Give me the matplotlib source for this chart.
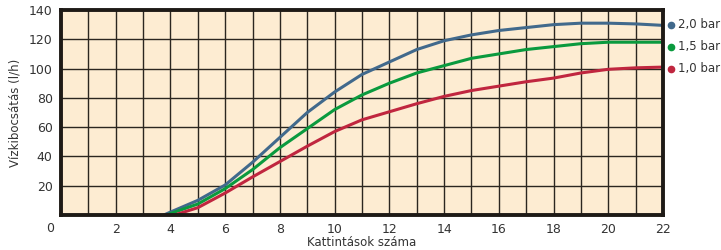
import matplotlib
matplotlib.use("Agg")
import matplotlib.pyplot as plt

# Data
x_20 = [3.76, 4, 5, 6, 7, 8, 9, 10, 11, 12, 13, 14, 15, 16, 17, 18, 19, 20, 21, 22]
y_20 = [0, 2, 10, 20.5, 36, 53, 70, 84, 96, 104.5, 113, 119, 123, 126, 128, 130, 131, 131, 130.5, 129.5]
x_15 = [3.9, 4, 5, 6, 7, 8, 9, 10, 11, 12, 13, 14, 15, 16, 17, 18, 19, 20, 21, 22]
y_15 = [0, 1, 7.5, 18, 31, 46, 59, 72, 82, 90, 97, 102, 107, 110, 113, 115, 117, 118, 118, 118]
x_10 = [4.15, 5, 6, 7, 8, 9, 10, 11, 12, 13, 14, 15, 16, 17, 18, 19, 20, 21, 22]
y_10 = [0, 5, 15, 26, 36.5, 47, 57, 65, 70.5, 76, 81, 85, 88, 91, 93.5, 97, 99.5, 100.5, 101]
labels = ["2,0 bar", "1,5 bar", "1,0 bar"]
label_y = [130, 115, 100]
colors = ["#41698c", "#0a9a3e", "#c0263f"]
x_ticks = [2, 4, 6, 8, 10, 12, 14, 16, 18, 20, 22]
y_ticks = [20, 40, 60, 80, 100, 120, 140]

plt.rcParams['font.family'] = ['DejaVu Sans']
fig = plt.figure(figsize=(7.21, 2.5), dpi=100)
ax = fig.add_axes([61/721, 35/250, 602/721, 205/250])
ax.set_facecolor("#fdecd2")
ax.set_xlim(0, 22)
ax.set_ylim(0, 140)

for xv in range(1, 22):
    ax.axvline(xv, color="#2b2620", lw=1.0, zorder=1)
for yv in range(20, 140, 20):
    ax.axhline(yv, color="#2b2620", lw=1.0, zorder=1)

for xs, ys, c in zip([x_20, x_15, x_10], [y_20, y_15, y_10], colors):
    ax.plot(xs, ys, color=c, lw=2.2, zorder=3, solid_capstyle='round',
            solid_joinstyle='round')

for lab, ly, c in zip(labels, label_y, colors):
    ax.plot([22.3], [ly], 'o', color=c, ms=4.5, clip_on=False, zorder=4)
    ax.text(22.55, ly, lab, color="#333333", fontsize=8.5, va='center', ha='left')

for s in ax.spines.values():
    s.set_linewidth(2.8)
    s.set_color("#1e1a16")
    s.set_zorder(5)

ax.set_xticks(x_ticks)
ax.set_yticks(y_ticks)
ax.tick_params(length=0, labelsize=9, colors="#333333", pad=6)
ax.text(-0.4, -9, "0", fontsize=9, color="#333333", ha='center', va='center')

ax.set_xlabel("Kattintások száma", fontsize=8.5, color="#333333", labelpad=0)
ax.set_ylabel("Vízkibocsátás (l/h)", fontsize=8.5, color="#333333", labelpad=5)

fig.savefig("out.png", dpi=100)
